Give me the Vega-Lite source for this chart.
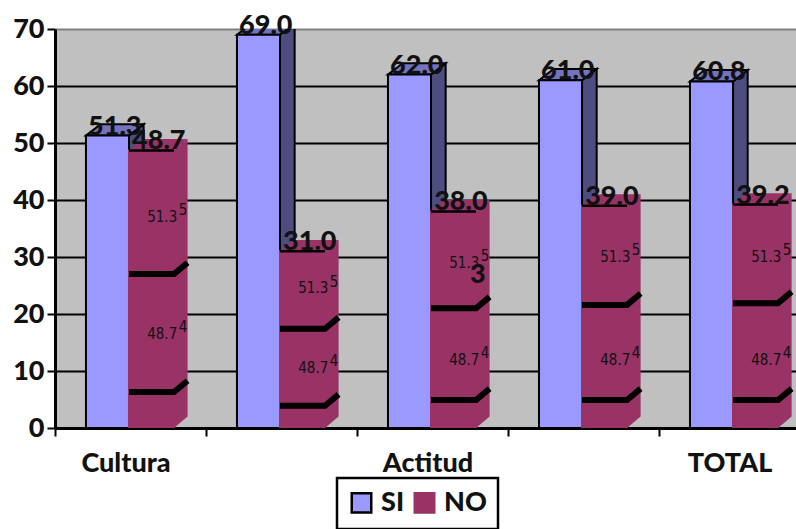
{
"$schema":"https://vega.github.io/schema/vega-lite/v6.json",
"width":741,"height":399,
"autosize":"none",
"padding":{"left":55,"top":29,"right":0,"bottom":101},
"background":"white",
"config":{"view":{"fill":"#C0C0C0","stroke":null},"font":"Lato","legend":{"strokeWidth":2.5,"strokeColor":"black"}},
"datasets":{
"bandas":[
{"i":0,"id":"a","banda":27.0},{"i":0,"id":"b","banda":6.3},
{"i":1,"id":"a","banda":17.4},{"i":1,"id":"b","banda":3.9},
{"i":2,"id":"a","banda":21.0},{"i":2,"id":"b","banda":4.9},
{"i":3,"id":"a","banda":21.6},{"i":3,"id":"b","banda":4.9},
{"i":4,"id":"a","banda":21.9},{"i":4,"id":"b","banda":4.9}],
"textura":[
{"i":0,"t":"51.3","v":37.0},{"i":0,"t":"48.7","v":16.5},
{"i":1,"t":"51.3","v":24.5},{"i":1,"t":"48.7","v":10.5},
{"i":2,"t":"51.3","v":29.0},{"i":2,"t":"48.7","v":12.0},
{"i":3,"t":"51.3","v":30.0},{"i":3,"t":"48.7","v":12.0},
{"i":4,"t":"51.3","v":30.0},{"i":4,"t":"48.7","v":12.0}]
},
"data":{"values":[
{"cat":"Cultura","i":0,"serie":"SI","valor":51.3},{"cat":"Cultura","i":0,"serie":"NO","valor":48.7},
{"cat":"","i":1,"serie":"SI","valor":69.0},{"cat":"","i":1,"serie":"NO","valor":31.0},
{"cat":"Actitud","i":2,"serie":"SI","valor":62.0},{"cat":"Actitud","i":2,"serie":"NO","valor":38.0},
{"cat":"","i":3,"serie":"SI","valor":61.0},{"cat":"","i":3,"serie":"NO","valor":39.0},
{"cat":"TOTAL","i":4,"serie":"SI","valor":60.8},{"cat":"TOTAL","i":4,"serie":"NO","valor":39.2}
]},
"transform":[
{"calculate":"datum.i+(datum.serie=='SI'?0.205:0.49)","as":"izq"},
{"calculate":"datum.izq+(datum.serie=='SI'?0.285:0.298)","as":"der"}
],
"layer":[
{"transform":[{"filter":"datum.serie=='SI'"},{"calculate":"[0,1]","as":"s"},{"flatten":["s"]},
{"calculate":"datum.der+datum.s*0.097","as":"px"},{"calculate":"datum.s*2","as":"lo"},{"calculate":"datum.valor+datum.s*2","as":"hi"}],
"mark":{"type":"area","color":"#4D4D80","stroke":"black","strokeWidth":2,"clip":true},
"encoding":{
"x":{"field":"px","type":"quantitative","scale":{"domain":[0,4.907],"nice":false,"zero":false},"axis":{"title":null,"values":[0,1,2,3,4],"labels":false,"grid":false,"domainColor":"black","domainWidth":3,"tickColor":"black","tickWidth":2,"tickSize":8}},
"y":{"field":"hi","type":"quantitative","scale":{"domain":[0,70],"nice":false},"axis":{"title":null,"values":[0,10,20,30,40,50,60,70],"grid":true,"gridColor":{"condition":{"test":"datum.value==70","value":"#808080"},"value":"black"},"gridWidth":2,"domainColor":"black","domainWidth":3,"tickColor":"black","tickWidth":2,"tickSize":8,"labelFont":"Lato","labelFontWeight":900,"labelFontSize":27,"labelColor":"#111111","labelPadding":3}},
"y2":{"field":"lo"},"detail":{"field":"i"}}},
{"transform":[{"filter":"datum.serie=='SI'"},{"calculate":"[0,1,2,3]","as":"s"},{"flatten":["s"]},
{"calculate":"datum.s==0?datum.izq:datum.s==1?datum.izq+0.097:datum.s==2?datum.der:datum.der+0.097","as":"px"},
{"calculate":"datum.s==3?datum.valor+2:datum.valor","as":"lo"},{"calculate":"datum.s==0?datum.valor:datum.valor+2","as":"hi"}],
"mark":{"type":"area","color":"#7373BF","stroke":"black","strokeWidth":2,"clip":true},
"encoding":{"x":{"field":"px","type":"quantitative"},"y":{"field":"hi","type":"quantitative"},"y2":{"field":"lo"},"detail":{"field":"i"}}},
{"transform":[{"filter":"datum.serie=='NO'"},{"calculate":"[0,1]","as":"s"},{"flatten":["s"]},
{"calculate":"datum.der+datum.s*0.09","as":"px"},{"calculate":"datum.s*2","as":"lo"},{"calculate":"datum.valor+datum.s*2","as":"hi"}],
"mark":{"type":"area","color":"#993366","clip":true},
"encoding":{"x":{"field":"px","type":"quantitative"},"y":{"field":"hi","type":"quantitative"},"y2":{"field":"lo"},"detail":{"field":"i"}}},
{"transform":[{"filter":"datum.serie=='NO'"},{"calculate":"[0,1,2,3]","as":"s"},{"flatten":["s"]},
{"calculate":"datum.s==0?datum.izq:datum.s==1?datum.izq+0.09:datum.s==2?datum.der:datum.der+0.09","as":"px"},
{"calculate":"datum.s==3?datum.valor+2:datum.valor","as":"lo"},{"calculate":"datum.s==0?datum.valor:datum.valor+2","as":"hi"}],
"mark":{"type":"area","color":"#993366","clip":true},
"encoding":{"x":{"field":"px","type":"quantitative"},"y":{"field":"hi","type":"quantitative"},"y2":{"field":"lo"},"detail":{"field":"i"}}},
{"mark":{"type":"bar","strokeWidth":2,"clip":true},
"encoding":{"x":{"field":"izq","type":"quantitative"},"x2":{"field":"der"},"y":{"field":"valor","type":"quantitative"},"y2":{"datum":0},
"fill":{"field":"serie","type":"nominal","scale":{"domain":["SI","NO"],"range":["#9999FF","#993366"]},"legend":{"title":null,"orient":"none","legendX":282,"legendY":449,"direction":"horizontal","columns":2,"symbolType":"square","symbolSize":380,"symbolStrokeWidth":2.5,"labelFont":"Lato","labelFontWeight":900,"labelFontSize":27,"labelColor":"#111111","labelOffset":6,"columnPadding":4,"fillColor":"white","padding":11}},
"stroke":{"field":"serie","type":"nominal","scale":{"domain":["SI","NO"],"range":["black","#993366"]}}}},
{"data":{"name":"bandas"},"transform":[
{"calculate":"[0,1,2]","as":"s"},{"flatten":["s"]},
{"calculate":"datum.i+0.49+(datum.s==0?0:datum.s==1?0.298:0.388)","as":"px"},
{"calculate":"datum.banda+(datum.s==2?2:0)","as":"py"}],
"mark":{"type":"line","color":"black","strokeWidth":6,"strokeCap":"butt","clip":true},
"encoding":{"x":{"field":"px","type":"quantitative"},"y":{"field":"py","type":"quantitative"},"detail":[{"field":"i"},{"field":"id"}]}},
{"transform":[{"filter":"datum.serie=='NO'"}],
"mark":{"type":"rule","color":"black","strokeWidth":2.5,"clip":true},
"encoding":{"x":{"field":"izq","type":"quantitative"},"x2":{"field":"der"},"y":{"field":"valor","type":"quantitative"}}},
{"data":{"name":"textura"},"transform":[{"calculate":"datum.i+0.71","as":"px"}],
"mark":{"type":"text","color":"#111111","font":"DejaVu Sans Condensed","fontSize":15,"clip":true},
"encoding":{"x":{"field":"px","type":"quantitative"},"y":{"field":"v","type":"quantitative"},"text":{"field":"t"}}},
{"data":{"name":"textura"},"transform":[{"calculate":"datum.i+0.848","as":"px"},{"calculate":"datum.v+1.2","as":"vv"},{"calculate":"substring(datum.t,0,1)","as":"ini"}],
"mark":{"type":"text","color":"#111111","font":"DejaVu Sans Condensed","fontSize":15,"clip":true},
"encoding":{"x":{"field":"px","type":"quantitative"},"y":{"field":"vv","type":"quantitative"},"text":{"field":"ini"}}},
{"data":{"values":[{"px":2.8,"v":26.8,"t":"3"}]},
"mark":{"type":"text","color":"#111111","font":"Lato","fontWeight":900,"fontSize":27},
"encoding":{"x":{"field":"px","type":"quantitative"},"y":{"field":"v","type":"quantitative"},"text":{"field":"t"}}},
{"transform":[{"calculate":"(datum.izq+datum.der+0.097)/2","as":"px"}],
"mark":{"type":"text","color":"#111111","font":"Lato","fontWeight":900,"fontSize":27,"baseline":"alphabetic","dy":-1},
"encoding":{"x":{"field":"px","type":"quantitative"},"y":{"field":"valor","type":"quantitative"},"text":{"field":"valor","format":".1f"}}},
{"transform":[{"filter":"datum.serie=='SI' && datum.cat!=''"},{"calculate":"datum.i+0.47","as":"px"}],
"mark":{"type":"text","color":"#111111","font":"Lato","fontWeight":900,"fontSize":27,"baseline":"middle","dy":36},
"encoding":{"x":{"field":"px","type":"quantitative"},"y":{"datum":0},"text":{"field":"cat"}}}
]
}
